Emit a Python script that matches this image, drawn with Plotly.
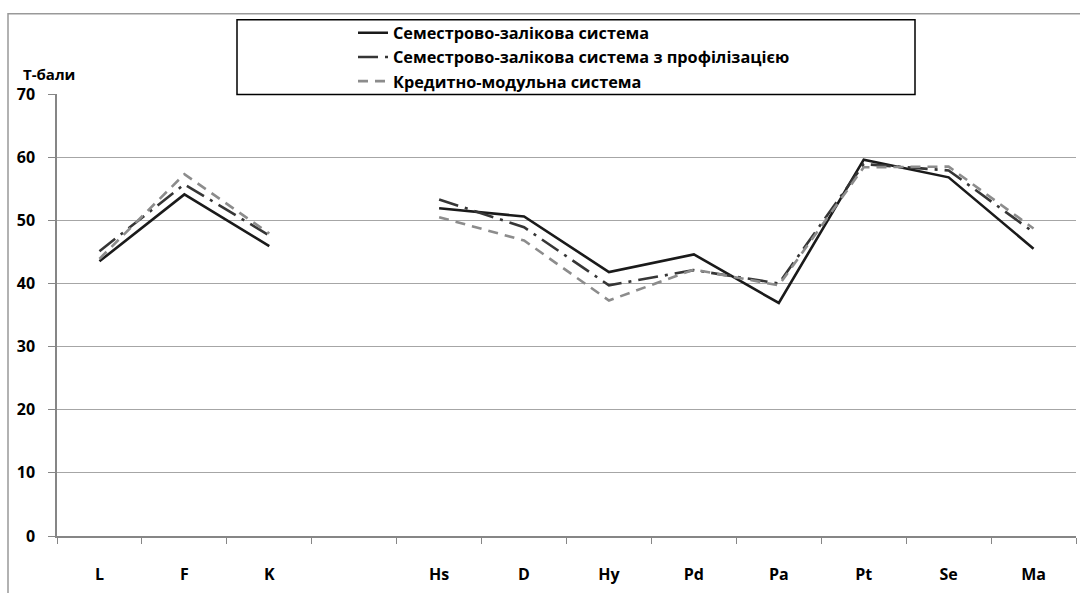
import plotly.graph_objects as go

categories = ["L", "F", "K", " ", "Hs", "D", "Hy", "Pd", "Pa", "Pt", "Se", "Ma"]
semester = [43.5, 54.1, 45.9, None, 51.9, 50.6, 41.8, 44.6, 36.9, 59.6, 56.8, 45.5]
semester_prof = [45.1, 55.7, 47.6, None, 53.3, 48.9, 39.7, 42.1, 40.0, 58.9, 57.9, 48.1]
credit_module = [43.9, 57.3, 47.9, None, 50.5, 46.8, 37.3, 42.2, 39.7, 58.4, 58.5, 48.7]
names = ["Семестрово-залікова система",
         "Семестрово-залікова система з профілізацією",
         "Кредитно-модульна система"]
y_ticks = [0, 10, 20, 30, 40, 50, 60, 70]

FONT = "Open Sans"
W, H = 1080, 593
ML, MR, MT, MB = 57, 4, 93.5, 56.5
PW, PH = W - ML - MR, H - MT - MB


def px_x(p):
    return (p - ML) / PW


def px_y(p):
    return (H - MB - p) / PH


fig = go.Figure()
fig.add_trace(go.Scatter(x=categories, y=semester, name=names[0], mode="lines",
                         line=dict(color="#1a1a1a", width=2.6)))
fig.add_trace(go.Scatter(x=categories, y=semester_prof, name=names[1], mode="lines",
                         line=dict(color="#363636", width=2.6, dash="20px,7px,3px,7px")))
fig.add_trace(go.Scatter(x=categories, y=credit_module, name=names[2], mode="lines",
                         line=dict(color="#8c8c8c", width=2.6, dash="10px,7px")))

fig.update_layout(
    template="none",
    width=W, height=H,
    margin=dict(l=ML, r=MR, t=MT, b=MB, autoexpand=False),
    paper_bgcolor="white", plot_bgcolor="white",
    font=dict(family=FONT, color="black"),
    showlegend=True,
    legend=dict(x=px_x(353), y=px_y(15), xanchor="left", yanchor="top",
                bgcolor="rgba(0,0,0,0)", borderwidth=0,
                font=dict(family=FONT, size=16.3, color="black", weight="bold"),
                itemwidth=30, tracegroupgap=0),
    xaxis=dict(type="category", categoryorder="array", categoryarray=categories,
               range=[-0.5, 11.5], tickson="boundaries", ticks="outside", ticklen=6,
               tickcolor="#868686", showline=True, linecolor="#868686", linewidth=1.5,
               showgrid=False, zeroline=False, ticklabelstandoff=23, automargin=False,
               tickfont=dict(family=FONT, size=16, color="black", weight="bold")),
    yaxis=dict(range=[0, 70], tickvals=y_ticks, ticks="outside", ticklen=7,
               tickcolor="#868686", showline=True, linecolor="#868686", linewidth=1.5,
               showgrid=True, gridcolor="#a6a6a6", gridwidth=1, zeroline=False,
               ticklabelstandoff=10, automargin=False,
               tickfont=dict(family=FONT, size=16, color="black", weight="bold")),
    shapes=[
        dict(type="rect", xref="paper", yref="paper",
             x0=px_x(8), x1=px_x(1100), y0=px_y(620), y1=px_y(13),
             line=dict(color="#999999", width=1.5), fillcolor="rgba(0,0,0,0)", layer="below"),
        dict(type="rect", xref="paper", yref="paper",
             x0=px_x(237), x1=px_x(915), y0=px_y(94), y1=px_y(19),
             line=dict(color="black", width=1.5), fillcolor="rgba(0,0,0,0)"),
    ],
    annotations=[
        dict(text="Т-бали", xref="paper", yref="paper", x=px_x(21), y=px_y(73),
             xanchor="left", yanchor="middle", showarrow=False,
             font=dict(family=FONT, size=15, color="black", weight="bold")),
    ],
)

fig.write_html("out.html", config={"displayModeBar": False},
               post_script="document.body.style.margin='0px';document.body.style.overflow='hidden';")
